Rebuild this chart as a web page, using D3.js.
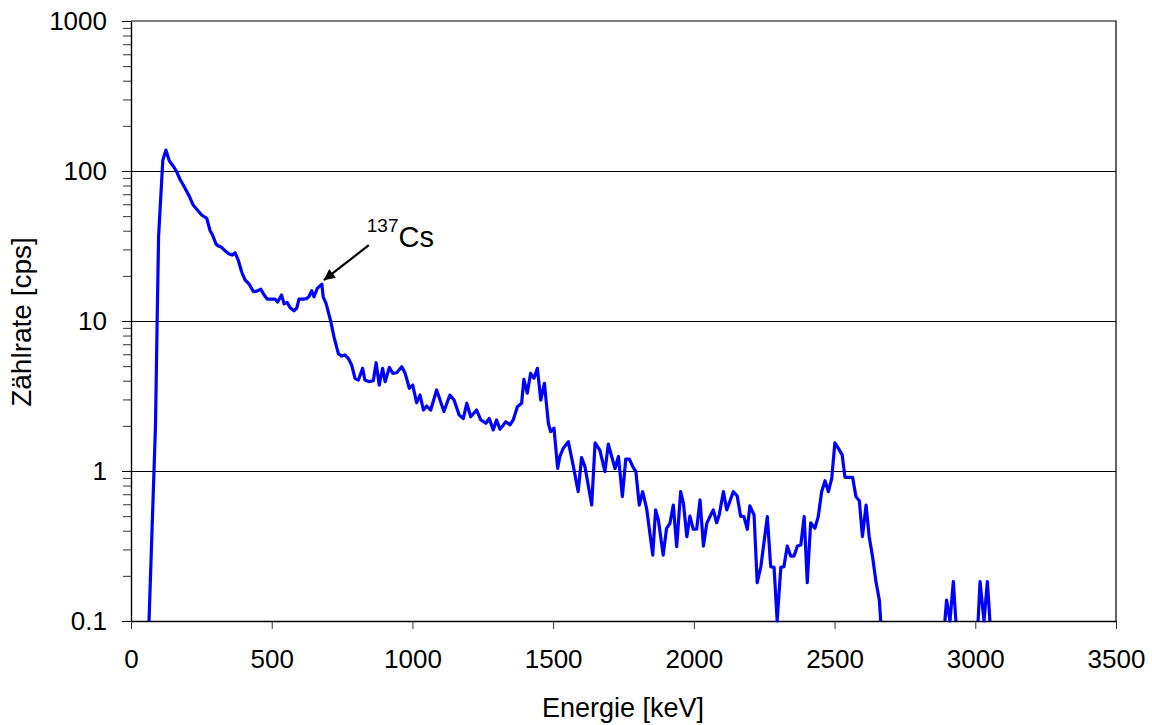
<!DOCTYPE html>
<html>
<head>
<meta charset="utf-8">
<script src="https://cdn.jsdelivr.net/npm/d3@7.9.0/dist/d3.min.js"></script>
<style>
  html, body { margin: 0; padding: 0; background: #fff; }
  svg { display: block; font-family: Arial, "Liberation Sans", sans-serif; }
</style>
</head>
<body>
<svg id="chart" width="1152" height="725"></svg>
<script>
// spectrum: [energy keV, count rate cps], null = below 0.1 (gap)
const spectrum = [
  [64, 0.1], [87, 2.0], [93, 10.2], [98, 36.5], [113, 118], [124, 138], [136, 117], [150, 108],
  [162, 99], [174, 88], [192, 76.7], [207, 68], [221, 59.3], [236, 55], [251, 50.9], [269, 48.4],
  [281, 40], [290, 37.4], [302, 32.6], [310, 31.6], [322, 31], [334, 29.4], [349, 28], [359, 27.5],
  [370, 28.5], [381, 25.5], [393, 21.3], [405, 18.8], [420, 17.6], [435, 15.7], [447, 15.8], [461, 16.3],
  [473, 14.9], [484, 14], [500, 14], [512, 14], [521, 13.4], [535, 14.9], [544, 13], [555, 13.3],
  [565, 12.3], [579, 11.7], [589, 12.2], [597, 14], [612, 14], [624, 14.1], [632, 14.5], [642, 15.9],
  [650, 14.5], [662, 16.5], [678, 17.6], [683, 14.5], [693, 13.1], [701, 11.5], [710, 9.9], [721, 7.86],
  [737, 6.03], [749, 5.84], [760, 5.94], [772, 5.64], [784, 5.09], [796, 4.15], [808, 4.04], [823, 4.84],
  [831, 4.04], [847, 3.94], [861, 4.0], [871, 5.27], [882, 3.74], [894, 4.84], [903, 3.94], [918, 4.91],
  [930, 4.48], [944, 4.52], [962, 4.96], [974, 4.48], [989, 3.56], [1001, 3.74], [1015, 2.85], [1027, 3.21],
  [1039, 2.55], [1051, 2.71], [1065, 2.55], [1086, 3.47], [1098, 2.97], [1112, 2.49], [1133, 3.21], [1148, 2.97],
  [1166, 2.36], [1181, 2.24], [1193, 2.83], [1207, 2.30], [1228, 2.55], [1243, 2.19], [1261, 2.08], [1273, 2.24],
  [1287, 1.88], [1299, 2.19], [1311, 1.90], [1332, 2.13], [1347, 2.03], [1358, 2.19], [1373, 2.68], [1388, 2.83],
  [1396, 4.09], [1408, 3.30], [1420, 4.48], [1432, 4.15], [1444, 4.84], [1456, 2.97], [1469, 3.84], [1483, 2.08],
  [1491, 1.83], [1503, 1.93], [1516, 1.04], [1524, 1.25], [1536, 1.42], [1554, 1.57], [1572, 1.07], [1589, 0.728],
  [1601, 1.23], [1613, 1.07], [1637, 0.593], [1649, 1.54], [1666, 1.38], [1684, 0.99], [1696, 1.51], [1708, 1.25],
  [1720, 1.04], [1732, 1.25], [1746, 0.674], [1758, 1.20], [1771, 1.20], [1783, 1.07], [1794, 0.99], [1806, 0.593],
  [1818, 0.728], [1832, 0.564], [1854, 0.275], [1864, 0.55], [1874, 0.471], [1891, 0.275], [1903, 0.415], [1915, 0.448],
  [1927, 0.593], [1939, 0.313], [1953, 0.728], [1963, 0.609], [1975, 0.365], [1986, 0.50], [1998, 0.409], [2010, 0.409],
  [2022, 0.641], [2034, 0.316], [2046, 0.448], [2057, 0.496], [2069, 0.55], [2081, 0.452], [2090, 0.509], [2105, 0.728],
  [2117, 0.55], [2140, 0.728], [2154, 0.681], [2166, 0.50], [2178, 0.496], [2190, 0.409], [2199, 0.585], [2214, 0.509],
  [2225, 0.18], [2238, 0.230], [2261, 0.496], [2273, 0.230], [2285, 0.228], [2296, 0.1], [2309, 0.228], [2320, 0.230],
  [2332, 0.316], [2344, 0.271], [2356, 0.271], [2368, 0.316], [2380, 0.321], [2392, 0.496], [2403, 0.18], [2415, 0.452],
  [2430, 0.415], [2442, 0.496], [2454, 0.728], [2466, 0.861], [2478, 0.728], [2490, 0.894], [2501, 1.54], [2513, 1.42],
  [2527, 1.28], [2537, 0.908], [2564, 0.908], [2576, 0.674], [2588, 0.634], [2599, 0.365], [2612, 0.593], [2623, 0.365],
  [2635, 0.268], [2647, 0.183], [2659, 0.138], [2664, 0.1],
  null,
  [2892, 0.1], [2898, 0.138], [2910, 0.1], [2922, 0.183], [2931, 0.1],
  null,
  [3010, 0.1], [3017, 0.183], [3031, 0.1], [3043, 0.183], [3052, 0.1]
];

const xTicks = [0, 500, 1000, 1500, 2000, 2500, 3000, 3500];
const yTicks = [0.1, 1, 10, 100, 1000];
const yGrid = [1, 10, 100];
const csPeak = [678, 17.6];

const svg = d3.select('#chart');
const plotL = 131, plotR = 1116, plotT = 21, plotB = 621;

const x = d3.scaleLinear().domain([0, 3500]).range([plotL, plotR]);
const y = d3.scaleLog().domain([0.1, 1000]).range([plotB, plotT]);

// minor log ticks 2..9 per decade
const yMinor = [];
for (let d = 0.1; d < 1000; d *= 10) {
  for (let k = 2; k <= 9; k++) yMinor.push(+(d * k).toPrecision(3));
}

// grid lines
svg.append('g')
  .attr('shape-rendering', 'crispEdges')
  .selectAll('line')
  .data(yGrid)
  .join('line')
    .attr('x1', plotL).attr('x2', plotR)
    .attr('y1', d => y(d)).attr('y2', d => y(d))
    .attr('stroke', '#000').attr('stroke-width', 1);

// frame top and right
svg.append('path')
  .attr('d', `M${plotL},${plotT}H${plotR}V${plotB}`)
  .attr('fill', 'none').attr('stroke', '#000').attr('stroke-width', 1.2);

// minor y ticks
svg.append('g')
  .attr('transform', `translate(${plotL},0)`)
  .call(d3.axisLeft(y).tickValues(yMinor).tickSize(8).tickFormat(''))
  .call(g => g.select('.domain').remove())
  .call(g => g.selectAll('line').attr('stroke', '#333'));

// major y axis
svg.append('g')
  .attr('transform', `translate(${plotL},0)`)
  .call(d3.axisLeft(y).tickValues(yTicks).tickSize(9).tickSizeOuter(0).tickPadding(15)
    .tickFormat(d => String(d)))
  .call(g => g.select('.domain').attr('stroke-width', 1.4))
  .call(g => g.selectAll('text').attr('font-size', 26).attr('fill', '#000')
    .attr('font-family', 'Arial, "Liberation Sans", sans-serif'));

// x axis
svg.append('g')
  .attr('transform', `translate(0,${plotB})`)
  .call(d3.axisBottom(x).tickValues(xTicks).tickSize(8).tickSizeOuter(0).tickPadding(21)
    .tickFormat(d3.format('d')))
  .call(g => g.select('.domain').attr('stroke-width', 1.4))
  .call(g => g.selectAll('line').attr('stroke', '#333'))
  .call(g => g.selectAll('text').attr('font-size', 26).attr('fill', '#000')
    .attr('font-family', 'Arial, "Liberation Sans", sans-serif'));

// axis titles
svg.append('text')
  .attr('x', 623).attr('y', 717)
  .attr('text-anchor', 'middle')
  .attr('font-size', 27)
  .text('Energie [keV]');

svg.append('text')
  .attr('transform', 'translate(31,322) rotate(-90)')
  .attr('text-anchor', 'middle')
  .attr('font-size', 28)
  .text('Zählrate [cps]');

// spectrum line
const line = d3.line()
  .defined(d => d !== null)
  .x(d => x(d[0]))
  .y(d => y(d[1]));

svg.append('path')
  .datum(spectrum)
  .attr('d', line)
  .attr('fill', 'none')
  .attr('stroke', '#0000ff')
  .attr('stroke-width', 3.2)
  .attr('stroke-linejoin', 'round');

// annotation
svg.append('defs').append('marker')
  .attr('id', 'arrow')
  .attr('viewBox', '0 0 10 10')
  .attr('refX', 10).attr('refY', 5)
  .attr('markerWidth', 14).attr('markerHeight', 11)
  .attr('markerUnits', 'userSpaceOnUse')
  .attr('orient', 'auto')
  .append('path')
    .attr('d', 'M0,0L10,5L0,10Z')
    .attr('fill', '#000');

const px = x(csPeak[0]), py = y(csPeak[1]);
svg.append('line')
  .attr('x1', px + 47).attr('y1', py - 39)
  .attr('x2', px + 2).attr('y2', py - 4)
  .attr('stroke', '#000').attr('stroke-width', 2.2)
  .attr('marker-end', 'url(#arrow)');

const lbl = svg.append('text')
  .attr('x', px + 45).attr('y', py - 52);
lbl.append('tspan').attr('font-size', 19).text('137');
lbl.append('tspan').attr('font-size', 29).attr('dy', 15).text('Cs');
</script>
</body>
</html>
